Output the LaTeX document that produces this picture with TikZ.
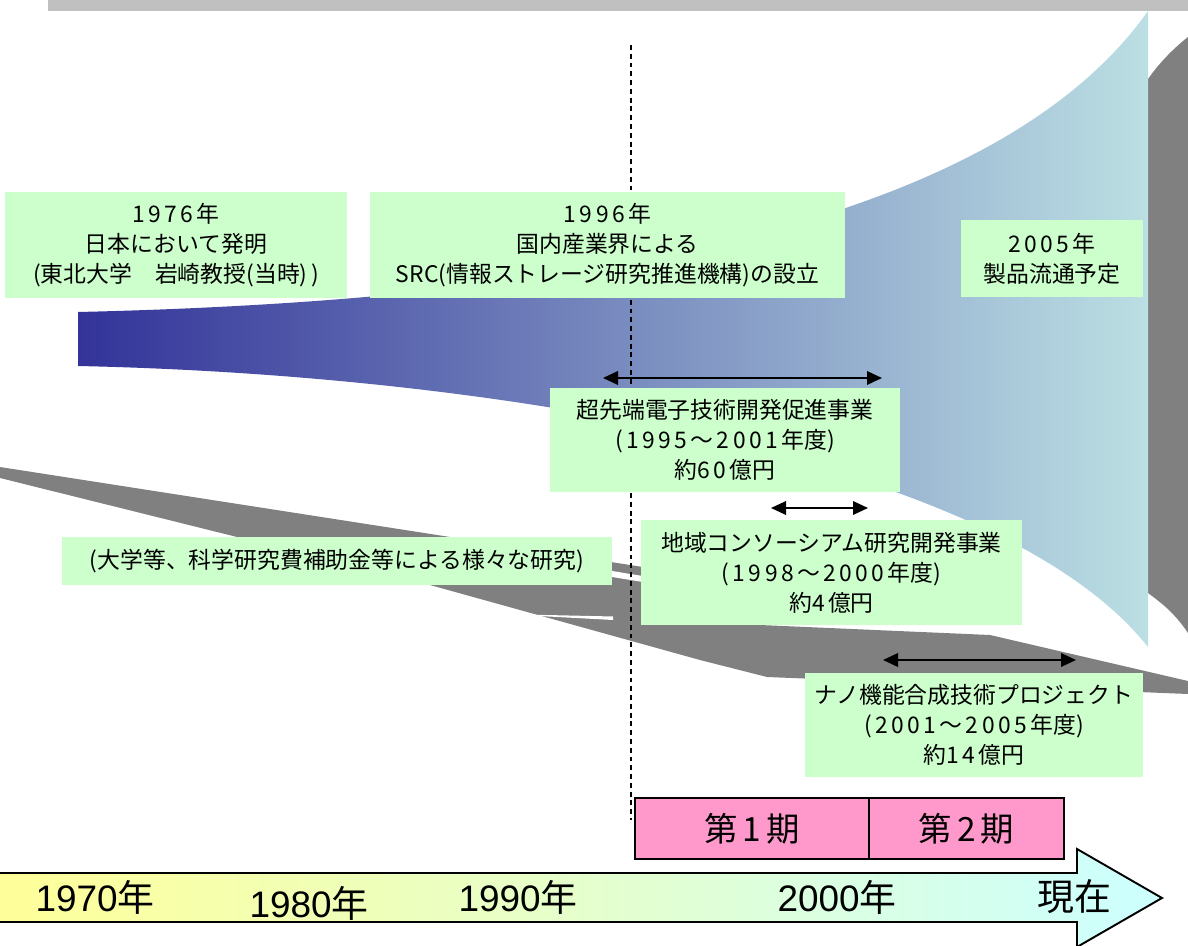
\documentclass[tikz,border=0pt]{standalone}
\usepackage{fontspec}
\newfontfamily\cjk{Noto Sans CJK JP}
\newfontfamily\lib{Liberation Sans}
\usetikzlibrary{arrows.meta}
\definecolor{boxgreen}{HTML}{CCFFCC}
\definecolor{pinkc}{HTML}{FF99CC}
\definecolor{grayc}{HTML}{808080}
\definecolor{barc}{HTML}{C0C0C0}
\definecolor{blueL}{HTML}{333399}
\definecolor{blueR}{HTML}{BBDFE3}
\definecolor{yelc}{HTML}{FFFF99}
\definecolor{cyanc}{HTML}{CCFFFF}
\definecolor{midc}{HTML}{E2FFDC}
\newcommand\dsp{\kern.15em\relax}
\begin{document}
\begin{tikzpicture}[x=0.02cm,y=-0.02cm,
  sz/.style 2 args={minimum width={#1*0.02cm},minimum height={#2*0.02cm}},
  gbox/.style={fill=boxgreen,inner sep=0pt,align=center,font={\cjk\fontsize{13}{17}\selectfont}},
  pbox/.style={fill=pinkc,draw=black,line width=0.85pt,inner sep=0pt,font={\cjk\fontsize{19}{22}\selectfont}},
  dbl/.style={{Triangle[length=0.3cm,width=0.27cm]}-{Triangle[length=0.3cm,width=0.27cm]},line width=1.1pt},
  ylab/.style={inner sep=0pt,font={\fontsize{21}{24}\selectfont}}]
\clip (0,0) rectangle (1188,946);
% top bar
\fill[barc] (48,0) rectangle (1188,11);
% gray streams
\fill[grayc] (0,467) -- (900,607) -- (760,625) -- (990,635) -- (1188,681) -- (1188,694)
  -- (767,677) -- (700,660) -- (430,585) -- (0,478) -- cycle;
\fill[white] (502,614) -- (613,616.5) -- (613,620) -- cycle;
\fill[white] (600,569) -- (655,578) -- (655,584) -- (600,575) -- cycle;
\fill[grayc] (1148,79) .. controls (1160,62) and (1174,48) .. (1188,37) -- (1188,633) .. controls (1174,612) and (1160,602) .. (1148,593) -- cycle;
% funnel
\shade[left color=blueL,right color=blueR]
 (78,312) .. controls (600,300) and (1000,220) .. (1148,11)
 -- (1148,647) .. controls (1000,460) and (500,375) .. (78,366) -- cycle;
% dashed line
\coordinate (dtop) at (631,45);
\coordinate (dbot) at (631,820);
\draw[line width=1pt,dash pattern=on 2.8pt off 2.2pt] (dtop) -- (dbot);
% boxes
\node[gbox,sz={342}{106}] (b1976) at (176,245) {1\dsp 9\dsp 7\dsp 6\dsp{年}\\日本において発明\\(東北大学　岩崎教授(当時)\dsp)};
\node[gbox,sz={475}{106}] (bsrc) at (607.5,245) {1\dsp 9\dsp 9\dsp 6\dsp{年}\\国内産業界による\\SRC(情報ストレージ研究推進機構)の設立};
\node[gbox,sz={182}{77}] (b2005) at (1052,258.5) {2\dsp 0\dsp 0\dsp 5\dsp{年}\\製品流通予定};
\node[gbox,sz={350}{104}] (bchou) at (725,440) {超先端電子技術開発促進事業\\(\dsp 1\dsp 9\dsp 9\dsp 5\dsp{～}\dsp 2\dsp 0\dsp 0\dsp 1\dsp{年度})\\約6\dsp 0\dsp{億円}};
\node[gbox,sz={381}{105}] (bchiiki) at (831.5,572.5) {地域コンソーシアム研究開発事業\\(\dsp 1\dsp 9\dsp 9\dsp 8\dsp{～}\dsp 2\dsp 0\dsp 0\dsp 0\dsp{年度})\\約4\dsp{億円}};
\node[gbox,sz={550}{48}] (bdai) at (337,561) {(大学等、科学研究費補助金等による様々な研究)};
\node[gbox,sz={338}{104}] (bnano) at (974,725) {ナノ機能合成技術プロジェクト\\(\dsp 2\dsp 0\dsp 0\dsp 1\dsp{～}\dsp 2\dsp 0\dsp 0\dsp 5\dsp{年度})\\約1\dsp 4\dsp{億円}};
% period arrows
\coordinate (a1l) at (603,378); \coordinate (a1r) at (882,378);
\coordinate (a2l) at (771,508); \coordinate (a2r) at (868,508);
\coordinate (a3l) at (883,660); \coordinate (a3r) at (1076,660);
\draw[dbl] (a1l) -- (a1r);
\draw[dbl] (a2l) -- (a2r);
\draw[dbl] (a3l) -- (a3r);
% pink period boxes
\node[pbox,sz={234}{61}] (p1) at (752,828.5) {第\dsp 1\dsp{期}};
\node[pbox,sz={195}{61}] (p2) at (966.5,828.5) {第\dsp 2\dsp{期}};
% time arrow
\shade[left color=yelc,middle color=midc,right color=cyanc,draw=black,line width=1.1pt]
 (-5,873) -- (1077,873) -- (1077,849) -- (1162,898) -- (1077,947) -- (1077,922) -- (-5,922) -- cycle;
\node[ylab] (y70) at (95,897) {{\lib 1970}{\cjk 年}};
\node[ylab] (y80) at (309,903) {{\lib 1980}{\cjk 年}};
\node[ylab] (y90) at (518,897) {{\lib 1990}{\cjk 年}};
\node[ylab] (y00) at (837,897) {{\lib 2000}{\cjk 年}};
\node[ylab] (ynow) at (1074,897) {{\cjk 現在}};
\end{tikzpicture}
\end{document}
